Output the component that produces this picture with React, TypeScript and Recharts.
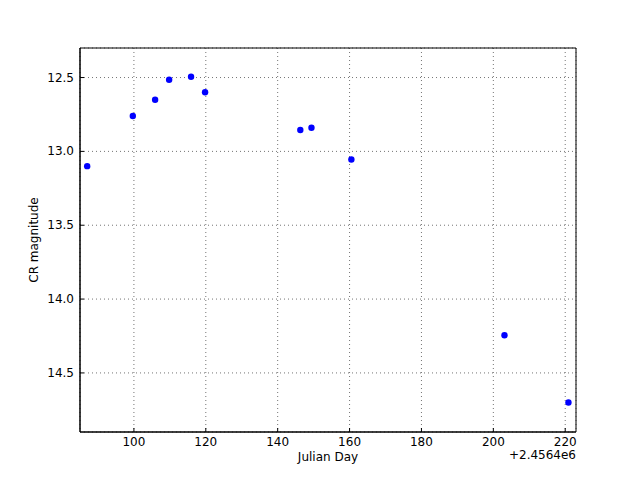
import { CartesianGrid, Label, ReferenceArea, Scatter, ScatterChart, XAxis, YAxis } from 'recharts';

// Julian day offsets from 2456400 and CR magnitudes
const DAYS = [87.0, 99.7, 105.9, 109.8, 115.9, 119.8, 146.3, 149.4, 160.5, 203.1, 220.9];
const MAGS = [13.1, 12.76, 12.65, 12.515, 12.495, 12.6, 12.855, 12.84, 13.055, 14.245, 14.7];
const X_TICKS = [100, 120, 140, 160, 180, 200, 220];
const Y_TICKS = [12.5, 13.0, 13.5, 14.0, 14.5];
const X_DOMAIN = [85, 223];
const Y_DOMAIN = [12.3, 14.9];

const data = DAYS.map((d, i) => ({ day: d, mag: MAGS[i] }));
const FONT = 'DejaVu Sans, sans-serif';

function XTick(props: any) {
  const { x, y, payload } = props;
  return (
    <g>
      <line x1={x} y1={y} x2={x} y2={y - 4} stroke="#000" />
      <text x={x} y={y + 14} textAnchor="middle" fontSize={12} fontFamily={FONT} fill="#000">
        {payload.value}
      </text>
    </g>
  );
}

function YTick(props: any) {
  const { x, y, payload } = props;
  return (
    <g>
      <line x1={x} y1={y} x2={x + 4} y2={y} stroke="#000" />
      <text x={x - 6} y={y + 4} textAnchor="end" fontSize={12} fontFamily={FONT} fill="#000">
        {Number(payload.value).toFixed(1)}
      </text>
    </g>
  );
}

const OffsetText = (props: any) => {
  const vb = props.viewBox || {};
  return (
    <text x={vb.x + vb.width} y={vb.y + 27} textAnchor="end" fontSize={12} fontFamily={FONT} fill="#000">
      +2.4564e6
    </text>
  );
};

export default function App() {
  return (
    <div style={{ position: 'absolute', left: 0, top: 0, width: 640, height: 480, background: '#fff' }}>
      <ScatterChart width={640} height={480} margin={{ top: 48, right: 64, bottom: 0, left: 0 }}>
        <CartesianGrid stroke="#000" strokeDasharray="1 3" strokeOpacity={0.55} />
        <XAxis
          type="number"
          dataKey="day"
          domain={X_DOMAIN}
          ticks={X_TICKS}
          height={48}
          tickSize={0}
          tickMargin={0}
          tickLine={false}
          axisLine={{ stroke: '#000' }}
          tick={<XTick />}
          allowDataOverflow
        >
          <Label value="Julian Day" position="insideBottom" offset={19} fontSize={12} fontFamily={FONT} fill="#000" />
          <Label content={<OffsetText />} />
        </XAxis>
        <YAxis
          type="number"
          dataKey="mag"
          domain={Y_DOMAIN}
          ticks={Y_TICKS}
          reversed
          width={80}
          tickSize={0}
          tickMargin={0}
          tickLine={false}
          axisLine={{ stroke: '#000' }}
          tick={<YTick />}
          allowDataOverflow
        >
          <Label value="CR magnitude" angle={-90} position="insideLeft" offset={34} fontSize={12} fontFamily={FONT} fill="#000" style={{ textAnchor: 'middle' }} />
        </YAxis>
        <ReferenceArea x1={X_DOMAIN[0]} x2={X_DOMAIN[1]} y1={Y_DOMAIN[0]} y2={Y_DOMAIN[1]} fill="none" stroke="#000" strokeWidth={1} />
        <Scatter
          data={data}
          isAnimationActive={false}
          shape={(p: any) => <circle cx={p.cx} cy={p.cy} r={3.2} fill="#0000ff" />}
        />
      </ScatterChart>
    </div>
  );
}
